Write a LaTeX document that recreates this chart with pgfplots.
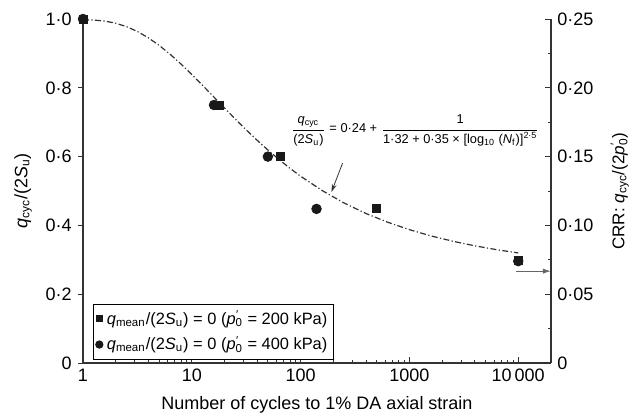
\documentclass[border=0pt]{standalone}
\usepackage{fontspec}
\setmainfont{Liberation Sans}
\usepackage{amsmath}
\usepackage{pgfplots}
\pgfplotsset{compat=1.18}
\usetikzlibrary{arrows.meta}
\definecolor{axc}{HTML}{333333}
\newcommand{\pz}{\textit{p}\makebox[0pt][l]{\textsuperscript{\kern0.3pt′}}\textsubscript{0}}
\begin{document}
\fontsize{9}{11}\selectfont
\begin{tikzpicture}
\begin{axis}[
 scale only axis, width=234pt, height=172pt,
 xmode=log, xmin=1, xmax=20000, ymin=0, ymax=1,
 axis x line*=bottom, axis y line*=left,
 axis line style={axc, line width=0.6pt, -},
 every tick/.style={axc, line width=0.5pt},
 tick align=inside, major tick length=3pt, minor tick length=1.6pt,
 xtick={1,10,100,1000,10000}, xticklabels={1,10,100,1000,10\,000},
 minor xtick={2,3,4,5,6,7,8,9,20,30,40,50,60,70,80,90,200,300,400,500,600,700,800,900,2000,3000,4000,5000,6000,7000,8000,9000},
 ytick=\empty,
 minor ytick={0.1,0.3,0.5,0.7,0.9},
 extra y ticks={0,0.2,0.4,0.6,0.8,1},
 extra y tick labels={0,0·2,0·4,0·6,0·8,1·0},
 extra y tick style={tick align=outside, major tick length=2.5pt},
 tick label style={font=\fontsize{9}{11}\selectfont},
 xlabel={Number of cycles to 1\% DA axial strain},
 ylabel={\textit{q}\textsubscript{cyc}/(2\textit{S}\textsubscript{u})},
 every axis x label/.style={at={(axis description cs:0.5,-0.122)}, anchor=center},
 every axis y label/.style={at={(axis description cs:-0.128,0.5)}, rotate=90, anchor=center},
 clip=false,
 legend style={at={(axis description cs:0.021,0.01)}, anchor=south west, draw=black, line width=0.5pt, font=\fontsize{8.2}{10}\selectfont, inner sep=1.2pt, row sep=0.8pt, cells={anchor=west}},
 legend cell align=left,
 legend image post style={scale=0.75},
]
\addplot[forget plot, axc, line width=0.6pt, dash pattern=on 3pt off 1.2pt on 0.6pt off 1.2pt] coordinates {
(1,0.9976) (1.2589,0.9969) (1.5849,0.9940) (1.9953,0.9878) (2.5119,0.9778)
(3.1623,0.9637) (3.9811,0.9454) (5.0119,0.9233) (6.3096,0.8977) (7.9433,0.8693)
(10,0.8388) (12.589,0.8068) (15.849,0.7742) (19.953,0.7414) (25.119,0.7091)
(31.623,0.6777) (39.811,0.6476) (50.119,0.6190) (63.096,0.5919) (79.433,0.5666)
(100,0.5430) (158.49,0.5009) (251.19,0.4651) (398.11,0.4347) (630.96,0.4092)
(1000,0.3876) (1584.9,0.3693) (2511.9,0.3539) (3981.1,0.3407) (6309.6,0.3295)
(10000,0.3199)};
\addplot[only marks, mark=square*, mark size=2pt, color=black!90] coordinates {
(1,1.0) (18,0.75) (65,0.6) (500,0.45) (10000,0.297)};
\addlegendentry{\textit{q}\textsubscript{mean}/(2\textit{S}\textsubscript{u}) = 0 (\pz{} = 200 kPa)}
\addplot[only marks, mark=*, mark size=2.4pt, color=black!90] coordinates {
(1,1.0) (16,0.75) (50,0.6) (140,0.448) (10000,0.296)};
\addlegendentry{\textit{q}\textsubscript{mean}/(2\textit{S}\textsubscript{u}) = 0 (\pz{} = 400 kPa)}
\node at (axis cs:1135,0.677) {\fontsize{6.4}{7}\selectfont
 $\dfrac{\text{\textit{q}\textsubscript{cyc}}}{\text{(2\textit{S}\textsubscript{u})}}\text{ = 0·24 + }\dfrac{\text{1}}{\text{1·32 + 0·35 × [log\textsubscript{10} (\textit{N}\textsubscript{f})]\textsuperscript{2·5}}}$};
\draw[-{Stealth[length=4pt,width=2.4pt]}, axc, line width=0.4pt] (axis cs:243,0.581) -- (axis cs:192,0.497);
\draw[-{Latex[length=4pt,width=2.6pt]}, black!60, line width=0.6pt] (axis cs:9500,0.267) -- (axis cs:20000,0.267);
\end{axis}
\begin{axis}[
 scale only axis, width=234pt, height=172pt,
 xmode=log, xmin=1, xmax=20000, ymin=0, ymax=0.25,
 axis x line=none, axis y line*=right,
 axis line style={axc, line width=0.6pt, -},
 every tick/.style={axc, line width=0.5pt},
 tick align=inside, major tick length=3pt, minor tick length=1.6pt,
 ytick={0,0.05,0.1,0.15,0.2,0.25},
 yticklabels={0,0·05,0·10,0·15,0·20,0·25},
 minor ytick={0.025,0.075,0.125,0.175,0.225},
 tick label style={font=\fontsize{9}{11}\selectfont},
 ylabel={CRR: \textit{q}\textsubscript{cyc}/(2\pz)},
 every axis y label/.style={at={(axis description cs:1.147,0.5)}, rotate=90, anchor=center, font=\fontsize{8.5}{10}\selectfont},
]
\addplot[draw=none] coordinates {(1,0) (20000,0.25)};
\end{axis}
\pgfresetboundingbox
\path (-41.5pt,-28pt) rectangle (280pt,181.5pt);
\end{tikzpicture}
\end{document}
